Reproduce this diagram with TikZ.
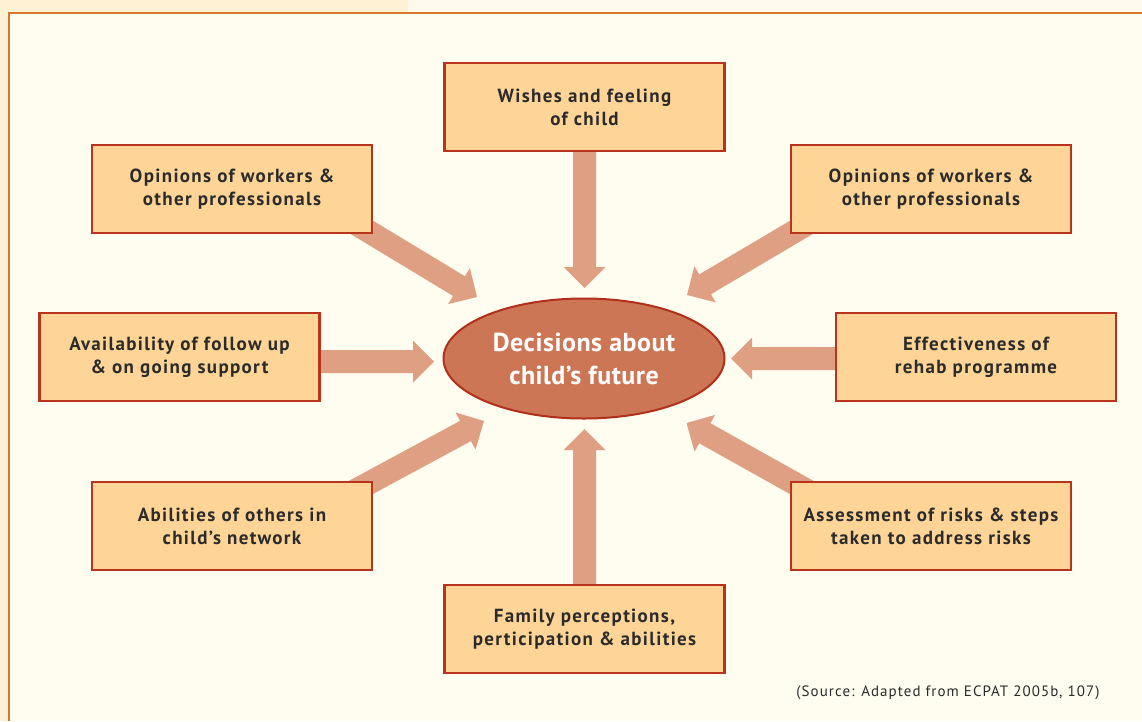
\documentclass[tikz,border=0pt]{standalone}
\usepackage{fontspec}
\setmainfont{PT Sans}
\newfontfamily\spacedfont{PT Sans}[LetterSpace=7]
\newfontfamily\ellfontfam{PT Sans}[LetterSpace=2]
\usetikzlibrary{calc,shapes.geometric}
\pgfdeclarelayer{back}
\pgfdeclarelayer{arrowlayer}
\pgfsetlayers{back,arrowlayer,main}
\definecolor{outerA}{HTML}{FFF2D4}
\definecolor{outerB}{HTML}{FFF9EB}
\definecolor{innerbg}{HTML}{FFFCF0}
\definecolor{frameline}{HTML}{D7782F}
\definecolor{boxfill}{HTML}{FFD597}
\definecolor{boxline}{HTML}{B8341C}
\definecolor{arrowfill}{HTML}{DF9F82}
\definecolor{ellfill}{HTML}{CD7656}
\definecolor{ellline}{HTML}{B0301A}
\definecolor{textdark}{HTML}{2B2B2B}
\newcommand\fatarrow[2]{%
  \path ($(#2)!21pt!(#1)$) coordinate (faH) ($(#1)!-22pt!(#2)$) coordinate (faS);
  \fill[arrowfill] ($(faS)!11.5pt!90:(#2)$) -- ($(faH)!11.5pt!90:(#2)$) -- ($(faH)!21pt!90:(#2)$) -- (#2)
    -- ($(faH)!21pt!-90:(#2)$) -- ($(faH)!11.5pt!-90:(#2)$) -- ($(faS)!11.5pt!-90:(#2)$) -- cycle;}
\begin{document}
\begin{tikzpicture}[x=1pt,y=-1pt,
  box/.style={draw=boxline, line width=2.4pt, fill=boxfill, minimum width=280pt, minimum height=88pt,
    inner sep=0pt, align=center, text=textdark, font=\spacedfont\fontsize{19}{23}\selectfont\bfseries},
  decision/.style={ellipse, draw=ellline, line width=2pt, fill=ellfill, minimum width=281pt, minimum height=120pt,
    inner sep=0pt, align=center, text=white, font=\ellfontfam\fontsize{26}{33}\selectfont\bfseries},
  srctext/.style={text=textdark, font=\spacedfont\fontsize{15}{18}\selectfont, inner sep=0pt}]
\useasboundingbox (0,0) rectangle (1142,721);
\begin{pgfonlayer}{back}
  \fill[outerB] (0,0) rectangle (1142,721);
  \fill[outerA] (0,0) rectangle (408,13);
  \fill[outerA] (0,0) rectangle (9,721);
  \fill[innerbg] (8.7,13.3) rectangle (1142,721);
  \draw[frameline, line width=1.8pt] (8.7,721) -- (8.7,13.3) -- (1142,13.3);
\end{pgfonlayer}

\node[decision] (dec) at (584,358.5) {Decisions about\\child’s future};
\node[box] (top) at (584.5,107) {Wishes and feeling\\of child};
\node[box] (tl) at (232,189) {Opinions of workers \&\\other professionals};
\node[box] (tr) at (931,189) {Opinions of workers \&\\other professionals};
\node[box] (ml) at (179.5,357) {Availability of follow up\\\& on going support};
\node[box] (mr) at (976,357) {Effectiveness of\\rehab programme};
\node[box] (bl) at (232,526) {Abilities of others in\\child’s network};
\node[box] (br) at (931,526) {Assessment of risks \& steps\\taken to address risks};
\node[box] (bot) at (584.5,629) {Family perceptions,\\perticipation \& abilities};
\node[srctext] (src) at (948,693) {(Source: Adapted from ECPAT 2005b, 107)};

\coordinate (tipT) at (584.5,288);
\coordinate (tipB) at (584.5,429);
\coordinate (tipML) at (434,361.5);
\coordinate (tipMR) at (731,358.5);
\coordinate (tipTL) at (477,297);
\coordinate (tipTR) at (687,295);
\coordinate (tipBL) at (484,421);
\coordinate (tipBR) at (686.5,423);
\coordinate (mlS) at ($(ml.east)+(0,4.5)$);
\coordinate (mrS) at ($(mr.west)+(0,1.5)$);

\begin{pgfonlayer}{arrowlayer}
  \fatarrow{top.south}{tipT}
  \fatarrow{bot.north}{tipB}
  \fatarrow{mlS}{tipML}
  \fatarrow{mrS}{tipMR}
  \fatarrow{tl.south east}{tipTL}
  \fatarrow{tr.south west}{tipTR}
  \fatarrow{bl.north east}{tipBL}
  \fatarrow{br.north west}{tipBR}
\end{pgfonlayer}
\end{tikzpicture}
\end{document}
